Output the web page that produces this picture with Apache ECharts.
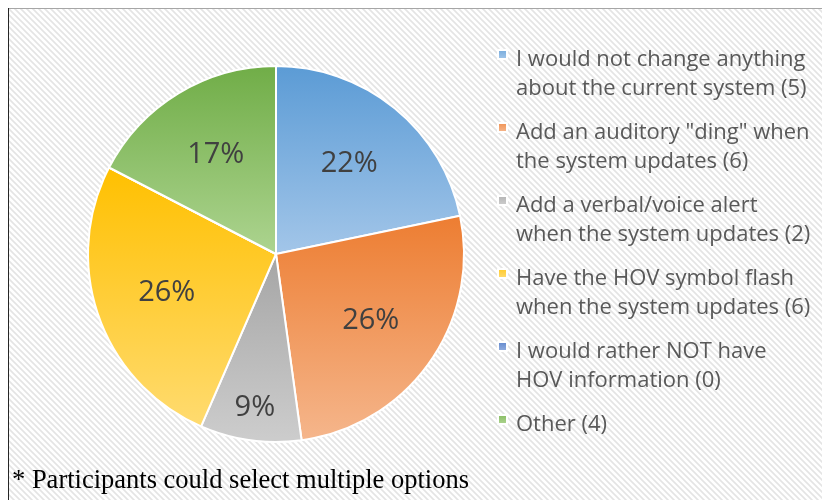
<!DOCTYPE html>
<html>
<head>
    <meta charset="utf-8">
    <title>HOV display preferences</title>
    <script src="https://cdn.jsdelivr.net/npm/echarts@6/dist/echarts.min.js"></script>
</head>
<body style="margin:0;background:#fff;">
    <div id="main" style="width:822px;height:500px;"></div>
    <script type="text/javascript">
        // legend text, first and second line
        var firstLines = ['I would not change anything', 'Add an auditory "ding" when', 'Add a verbal/voice alert',
            'Have the HOV symbol flash', 'I would rather NOT have', 'Other'];
        var secondLines = ['about the current system', 'the system updates', 'when the system updates',
            'when the system updates', 'HOV information', ''];
        // number of participants per option
        var counts = [5, 6, 2, 6, 0, 4];
        // slice colours, top and bottom of the gradient
        var topColors = ['#5b9bd5', '#ed7d31', '#a5a5a5', '#ffc000', '#4472c4', '#70ad47'];
        var bottomColors = ['#a3c6e9', '#f5b68c', '#cdcdcd', '#ffdb70', '#93aede', '#add490'];

        var myChart = echarts.init(document.getElementById('main'));

        // diagonal hatch tile for the background
        var tile = document.createElement('canvas');
        tile.width = 6;
        tile.height = 6;
        var ctx = tile.getContext('2d');
        ctx.fillStyle = '#ffffff';
        ctx.fillRect(0, 0, 6, 6);
        ctx.strokeStyle = '#e4e4e4';
        ctx.lineWidth = 1.6;
        ctx.beginPath();
        ctx.moveTo(-1, -1); ctx.lineTo(7, 7);
        ctx.moveTo(-7, -1); ctx.lineTo(1, 7);
        ctx.moveTo(5, -1); ctx.lineTo(13, 7);
        ctx.stroke();

        var sliceData = [];
        var legendData = [];
        for (var i = 0; i < counts.length; i++) {
            sliceData.push({
                name: firstLines[i],
                value: counts[i],
                itemStyle: {
                    color: new echarts.graphic.LinearGradient(0, 0, 0, 1, [
                        {offset: 0, color: topColors[i]},
                        {offset: 1, color: bottomColors[i]}
                    ])
                }
            });
            legendData.push({
                name: firstLines[i],
                itemStyle: {
                    color: new echarts.graphic.LinearGradient(0, 0, 0, 0.25, [
                        {offset: 0, color: topColors[i]},
                        {offset: 1, color: bottomColors[i]}
                    ])
                }
            });
        }

        function legendText(name) {
            var i = firstLines.indexOf(name);
            if (secondLines[i] === '') {
                return firstLines[i] + ' (' + counts[i] + ')\n ';
            }
            return firstLines[i] + '\n' + secondLines[i] + ' (' + counts[i] + ')';
        }

        // label-only copies of the data
        var labelData = counts.map(function (v, i) {
            return {name: firstLines[i], value: v};
        });

        var option = {
            animation: false,
            graphic: [
                {
                    type: 'rect', z: -10, silent: true,
                    shape: {x: 8, y: 8, width: 814, height: 492},
                    style: {fill: {image: tile, repeat: 'repeat'}}
                },
                {
                    type: 'line', silent: true,
                    shape: {x1: 8, y1: 8.5, x2: 822, y2: 8.5},
                    style: {stroke: '#a6a6a6', lineWidth: 1}
                },
                {
                    type: 'line', silent: true,
                    shape: {x1: 8.5, y1: 8, x2: 8.5, y2: 500},
                    style: {stroke: '#262626', lineWidth: 1}
                },
                {
                    type: 'text', left: 12, top: 468, silent: true,
                    style: {
                        text: '* Participants could select multiple options',
                        font: '26.5px "Liberation Serif", serif',
                        fill: '#000000'
                    }
                }
            ],
            legend: {
                orient: 'vertical',
                left: 497,
                top: 44,
                padding: 0,
                itemGap: 13,
                itemWidth: 13,
                itemHeight: 58,
                icon: 'path://M0,0M13,58M0,5h9v9h-9z',
                selectedMode: false,
                data: legendData,
                formatter: legendText,
                textStyle: {
                    fontFamily: 'Open Sans',
                    fontSize: 22,
                    lineHeight: 29,
                    color: '#595959'
                }
            },
            series: [
                {
                    type: 'pie',
                    center: [276, 254],
                    radius: [0, 188],
                    startAngle: 90,
                    silent: true,
                    label: {show: false},
                    labelLine: {show: false},
                    itemStyle: {borderColor: '#ffffff', borderWidth: 2},
                    data: sliceData
                },
                {
                    type: 'pie',
                    center: [276, 254],
                    radius: [38, 188],
                    startAngle: 90,
                    silent: true,
                    percentPrecision: 0,
                    itemStyle: {color: 'rgba(0,0,0,0)', borderWidth: 0},
                    label: {
                        show: true,
                        position: 'inside',
                        fontFamily: 'Open Sans',
                        fontSize: 29,
                        color: '#404040',
                        formatter: function (p) {
                            if (p.value === 0 || p.dataIndex === 2) return '';
                            return p.percent + '%';
                        }
                    },
                    data: labelData
                },
                {
                    type: 'pie',
                    center: [276, 254],
                    radius: [116, 188],
                    startAngle: 90,
                    silent: true,
                    percentPrecision: 0,
                    itemStyle: {color: 'rgba(0,0,0,0)', borderWidth: 0},
                    label: {
                        show: true,
                        position: 'inside',
                        fontFamily: 'Open Sans',
                        fontSize: 29,
                        color: '#404040',
                        formatter: function (p) {
                            if (p.dataIndex !== 2) return '';
                            return p.percent + '%';
                        }
                    },
                    data: labelData
                }
            ]
        };
        myChart.setOption(option);
    </script>
</body>
</html>
